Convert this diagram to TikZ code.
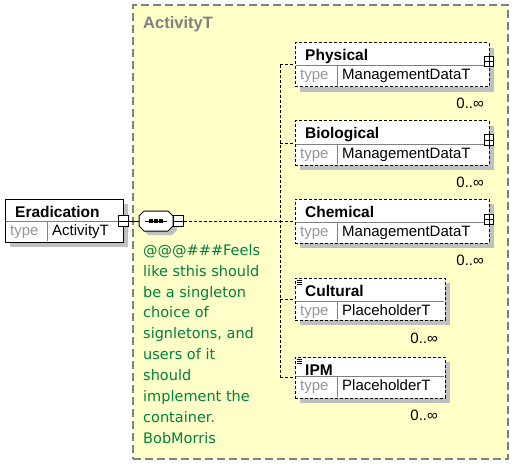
\documentclass[tikz,border=0pt]{standalone}
\usepackage{fontspec}
\setmainfont{Liberation Sans}
\newfontfamily\notefont{DejaVu Sans}
\usetikzlibrary{fit}
\definecolor{bgyellow}{RGB}{255,255,200}
\definecolor{notegreen}{RGB}{0,128,64}
\definecolor{shadowgray}{RGB}{192,192,192}
\definecolor{framegray}{RGB}{128,128,128}
\definecolor{typegray}{RGB}{150,150,150}
\tikzset{
  titlefont/.style={font=\fontsize{15.5}{18}\selectfont\bfseries},
  rowfont/.style={font=\fontsize{15}{18}\selectfont},
  solidframe/.style={draw=black, fill=white, line width=1pt, inner sep=0pt},
  optframe/.style={solidframe, dash pattern=on 3pt off 2pt},
  divider/.style={draw=framegray, line width=1pt},
  conn/.style={draw=black, line width=1pt, dash pattern=on 3pt off 2pt},
  solidconn/.style={draw=black, line width=1pt},
  txt/.style={inner sep=0pt, anchor=base west},
  sqbox/.style={draw=black, fill=white, line width=1pt, inner sep=0pt, minimum width=10pt, minimum height=11pt},
  plusbox/.style={draw=black, fill=white, line width=1pt, inner sep=0pt, minimum width=9pt, minimum height=10pt},
  multfont/.style={font=\fontsize{15}{18}\selectfont, inner sep=0pt, anchor=base east},
}
% #1 name, #2 left, #3 top, #4 right, #5 bottom, #6 divider y, #7 title, #8 type value, #9 frame style
\newcommand\xelem[9]{%
  \fill[shadowgray] (#2+5,#3+5) rectangle (#4+5,#5+5);
  \node[#9, fit={(#2,#3) (#4,#5)}] (#1) {};
  \draw[divider] (#2+1,#6) -- (#4-1,#6);
  \draw[divider] (#2+42,#6) -- (#2+42,#5-1);
  \node[txt, titlefont] (#1-title) at (#2+10,#3+18) {#7};
  \node[txt, rowfont, text=typegray] (#1-type) at (#2+5,#6+14) {type};
  \node[txt, rowfont] (#1-val) at (#2+47,#6+14) {#8};
}
\newcommand\plusmark[3]{% name, x, y
  \node[plusbox] (#1) at (#2,#3) {};
  \draw[line width=1pt] (#1.north) -- (#1.south) (#1.west) -- (#1.east);
}
\newcommand\docmark[2]{% left, top
  \draw[line width=1pt] (#1+2,#2+2.5) -- ++(5,0) (#1+2,#2+4.5) -- ++(5,0) (#1+2,#2+6.5) -- ++(5,0);
}
\begin{document}
\begin{tikzpicture}[x=1pt,y=-1pt]
\useasboundingbox (0,0) rectangle (526,465);
\fill[white] (0,0) rectangle (526,465);

% complex type frame
\node[draw=framegray, fill=bgyellow, line width=1.2pt, dash pattern=on 8pt off 4pt, inner sep=0pt,
      fit={(133,5) (508,459)}] (activity) {};
\node[txt, font=\fontsize{16.5}{18}\selectfont\bfseries, text=framegray] (activity-title) at (143,29) {ActivityT};

% root element
\xelem{erad}{5}{199}{123}{242}{221}{Eradication}{ActivityT}{solidframe}
\node[sqbox] (erad-sq) at (123,221) {};
\draw[line width=1pt] (erad-sq.west) -- (erad-sq.east);

% sequence compositor
\node[inner sep=0pt, minimum width=34pt, minimum height=20pt] (seq) at (156,221) {};
\fill[shadowgray] ([xshift=4pt,yshift=-4pt]seq.center) ++(-12,-10) -- ++(24,0) -- ++(5,5) -- ++(0,10) -- ++(-5,5) -- ++(-24,0) -- ++(-5,-5) -- ++(0,-10) -- cycle;
\draw[line width=1pt, fill=white] (seq.center) ++(-12,-10) -- ++(24,0) -- ++(5,5) -- ++(0,10) -- ++(-5,5) -- ++(-24,0) -- ++(-5,-5) -- ++(0,-10) -- cycle;
\draw[line width=1pt] (seq.center) ++(-11,0) -- ++(22,0);
\foreach \dx in {-5,0,5} { \fill ([xshift=\dx pt]seq.center) ++(-1.7,-1.7) rectangle ++(3.4,3.4); }
\node[sqbox] (seq-sq) at (178,221) {};
\draw[line width=1pt] (seq-sq.west) -- (seq-sq.east);
\draw[solidconn] (erad-sq.east) -- (seq.west);

% child elements
\xelem{phys}{295}{43}{489}{87}{66}{Physical}{ManagementDataT}{optframe}
\xelem{bio}{295}{121}{489}{165}{144}{Biological}{ManagementDataT}{optframe}
\xelem{chem}{295}{199}{489}{243}{222}{Chemical}{ManagementDataT}{optframe}
\xelem{cult}{295}{278}{445}{320}{301}{Cultural}{PlaceholderT}{optframe}
\xelem{ipm}{295}{357}{445}{398}{376}{IPM}{PlaceholderT}{optframe}
\plusmark{phys-plus}{489}{62}
\plusmark{bio-plus}{489}{140}
\plusmark{chem-plus}{489}{219}
\docmark{295}{278}
\docmark{295}{357}

\node[multfont] (phys-mult) at (484,109) {0..∞};
\node[multfont] (bio-mult) at (484,187) {0..∞};
\node[multfont] (chem-mult) at (484,265) {0..∞};
\node[multfont] (cult-mult) at (438,343) {0..∞};
\node[multfont] (ipm-mult) at (438,420) {0..∞};

% connectors
\coordinate (spine) at (280,221);
\draw[conn] (seq-sq.east) -- (spine);
\draw[conn] (phys.west -| spine) -- (ipm.west -| spine);
\draw[conn] (phys.west -| spine) -- (phys.west);
\draw[conn] (bio.west -| spine) -- (bio.west);
\draw[conn] (chem.west -| spine) -- (chem.west);
\draw[conn] (cult.west -| spine) -- (cult.west);
\draw[conn] (ipm.west -| spine) -- (ipm.west);

% annotation
\node[anchor=north west, align=left, inner sep=0pt, text=notegreen,
      font=\notefont\fontsize{14.5}{20.9}\selectfont] (note) at (143,244)
  {@@@\#\#\#Feels\\like sthis should\\be a singleton\\choice of\\signletons, and\\users of it\\should\\implement the\\container.\\BobMorris};
\end{tikzpicture}
\end{document}
